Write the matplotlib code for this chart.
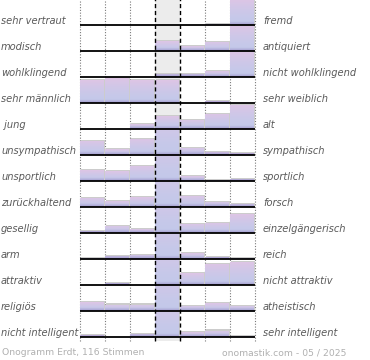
import numpy as np
import matplotlib
matplotlib.use("Agg")
import matplotlib.pyplot as plt
from matplotlib.colors import to_rgb
from matplotlib.transforms import blended_transform_factory

left_labels = ["sehr vertraut", "modisch", "wohlklingend", "sehr männlich", " jung",
               "unsympathisch", "unsportlich", "zurückhaltend", "gesellig", "arm",
               "attraktiv", "religiös", "nicht intelligent"]
right_labels = ["fremd", "antiquiert", "nicht wohlklingend", "sehr weiblich", "alt",
                "sympathisch", "sportlich", "forsch", "einzelgängerisch", "reich",
                "nicht attraktiv", "atheistisch", "sehr intelligent"]
# vote share per scale step, in units of row height (values > 1 get cut at the row top)
heights = [
    [0.00, 0.00, 0.00, 0.00, 0.00, 0.02, 0.98],
    [0.00, 0.00, 0.00, 0.38, 0.19, 0.35, 0.98],
    [0.00, 0.00, 0.00, 0.12, 0.12, 0.23, 0.98],
    [0.88, 0.96, 0.88, 0.88, 0.00, 0.06, 0.00],
    [0.00, 0.00, 0.19, 0.50, 0.35, 0.58, 0.94],
    [0.54, 0.23, 0.62, 1.60, 0.27, 0.10, 0.06],
    [0.42, 0.37, 0.58, 1.60, 0.19, 0.04, 0.08],
    [0.35, 0.23, 0.38, 1.60, 0.44, 0.21, 0.13],
    [0.08, 0.27, 0.15, 1.60, 0.35, 0.40, 0.73],
    [0.04, 0.12, 0.17, 1.60, 0.23, 0.08, 0.03],
    [0.00, 0.08, 0.00, 1.60, 0.46, 0.81, 0.88],
    [0.33, 0.25, 0.25, 1.60, 0.21, 0.29, 0.21],
    [0.06, 0.00, 0.13, 1.60, 0.19, 0.25, 0.02],
]
footer_left = "Onogramm Erdt, 116 Stimmen"
footer_right = "onomastik.com - 05 / 2025"

W, H, DPI = 370, 360, 100
ROW_PX = 26
PINK = np.array(to_rgb("#dec5e5"))
BLUE = np.array(to_rgb("#c3c9ea"))
DEEP = np.array(to_rgb("#9a8ec6"))
TXT = "#5a5a5a"


def bar_image(h):
    vis = min(h, 1.0)
    n = max(int(vis * ROW_PX * 4), 2)
    d = np.linspace(0, vis, n)
    t = (d / h) ** 1.6
    col = BLUE[None, :] + (PINK - BLUE)[None, :] * t[:, None]
    band = np.clip(1 - d * ROW_PX / 3.5, 0, 1) * 0.8
    col = col + (DEEP[None, :] - col) * band[:, None]
    return col[:, None, :], vis


fig = plt.figure(figsize=(W / DPI, H / DPI), dpi=DPI)
ax = fig.add_axes([80 / W, (H - 340.9) / H, 175 / W, 341.9 / H])
ax.set_xlim(0, 7)
ax.set_ylim(-0.15, 13)
ax.axis("off")

ax.axvspan(3, 4, color="#ececec", zorder=0, lw=0)
for x in [0, 1, 2, 5, 6, 7]:
    ax.axvline(x, color="#7a7a7a", lw=0.8, ls=(0, (1, 1.5)), zorder=1, clip_on=False)

nrows = len(heights)
for i, row in enumerate(heights):
    b = nrows - 1 - i
    for j, h in enumerate(row):
        if h <= 0:
            continue
        vis = min(h, 1.0)
        ax.bar(j + 0.525, vis + 0.04, bottom=b, width=0.95, color="#cccccc", lw=0, zorder=2)
    for j, h in enumerate(row):
        if h <= 0:
            continue
        img, vis = bar_image(h)
        bars = ax.bar(j + 0.475, vis, bottom=b, width=0.95, color=BLUE, lw=0, zorder=3)
        im = ax.imshow(img, origin="lower", extent=(j, j + 0.95, b, b + vis),
                       aspect="auto", interpolation="bilinear", zorder=3)
        im.set_clip_path(bars[0])
    ax.hlines(b, 0, 7, color="black", lw=1.3, zorder=5)

for x in [3, 4]:
    ax.axvline(x, color="black", lw=1.0, ls=(0, (3, 2)), zorder=4, clip_on=False)
ax.set_xlim(0, 7)
ax.set_ylim(-0.15, 13)

tr = blended_transform_factory(fig.transFigure, ax.transData)
for i, (lt, rt) in enumerate(zip(left_labels, right_labels)):
    b = nrows - 1 - i
    ax.text(1 / W, b + 0.04, lt, transform=tr, ha="left", va="baseline",
            fontsize=7.1, style="italic", color=TXT)
    ax.text(263 / W, b + 0.04, rt, transform=tr, ha="left", va="baseline",
            fontsize=7.1, style="italic", color=TXT)

fig.text(1.5 / W, 1 - 352.5 / H, footer_left, ha="left", va="center",
         fontsize=6.7, color="#b0b0b0")
fig.text(346 / W, 1 - 352.5 / H, footer_right, ha="right", va="center",
         fontsize=6.7, color="#b0b0b0")

fig.savefig("out.png", dpi=DPI)
